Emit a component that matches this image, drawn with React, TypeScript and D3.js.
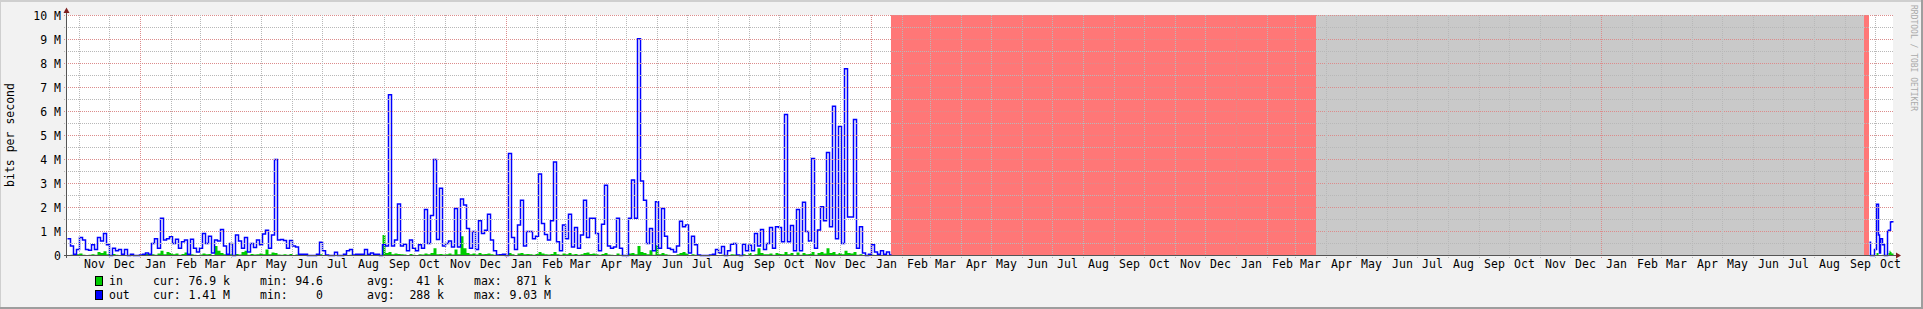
import React from 'react';
import * as d3 from 'd3';

const W = 1923;
const H = 309;
const DAY = 86400000;

// time window of the graph
const START = Date.UTC(2011, 9, 20);
const END = Date.UTC(2016, 9, 19);

// main data block: 3-day steps from START (values in Mbit/s)
const MAIN_STEP_DAYS = 3;
const MAIN_END = Date.UTC(2014, 0, 21);
const OUT_MAIN: number[] = [
  0.7, 0.4, 0.05, 0.25, 0.75, 0.65, 0.25, 0.22, 0.45, 0.25,
  0.75, 0.6, 0.92, 0.45, 0, 0.3, 0.2, 0.25, 0.05, 0.25,
  0, 0.05, 0, 0, 0.02, 0.05, 0.1, 0.05, 0.5, 0.7,
  0.3, 1.55, 0.65, 0.7, 0.78, 0.5, 0.68, 0.3, 0.57, 0.65,
  0.05, 0.68, 0.3, 0.15, 0.3, 0.92,
  0.5, 0.8, 0.1, 0.65, 0.6, 1.08, 0.4, 0.05, 0.5, 0,
  0.85, 0.6, 0.3, 0.75, 0.15, 0.5, 0.33, 0.65, 0.45, 0.9,
  1.05, 0.3, 0.85, 4.0, 0.65, 0.67, 0.62, 0.3, 0.62, 0.4,
  0.35, 0.05, 0.05, 0.05, 0, 0, 0, 0.05, 0.55, 0.2,
  0.02, 0, 0, 0.14, 0, 0,
  0.05, 0.2, 0.25, 0.02, 0.05, 0.05, 0.05, 0.25, 0.05, 0.1,
  0.05, 0.05, 0, 0.45, 0.4, 6.7, 0.4, 0.65, 2.15, 0.4,
  0.47, 0.2, 0.65, 0.3, 0.2, 0.45, 0.3, 1.92, 0.5, 1.67,
  4.0, 0.67, 2.8, 0.4, 0.5, 0.6, 0.35, 1.96, 0.35, 2.35,
  2.1, 1.13, 0.3, 1.0, 0.25, 1.45,
  0.92, 1.05, 1.72, 0.65, 0.2, 0.02, 0.03, 0.05, 0, 4.25,
  0.75, 0.25, 1.27, 2.3, 0.4, 1.0, 1.0, 0.7, 0.8, 3.4,
  1.33, 0.88, 0.65, 1.45, 3.9, 0.57, 0.2, 1.27, 0.7, 1.72,
  0.35, 1.17, 0.3, 0.85, 2.3, 0.75, 1.55, 1.55, 0.92, 0.2,
  1.3, 2.93, 0.4, 0.3, 0.35, 1.55,
  0.3, 0, 0, 1.55, 3.15, 1.55, 9.03, 3.1, 2.3, 0.5,
  1.12, 0.2, 2.24, 0.3, 1.96, 0.8, 0.3, 0.25, 0.15, 0.4,
  1.43, 1.2, 1.27, 0.1, 0.8, 0.45, 0.02, 0, 0, 0,
  0.02, 0.05, 0.25, 0.1, 0.37, 0, 0.2, 0.47, 0.5, 0.02,
  0, 0.47, 0.2, 0.43, 0.2, 0.92,
  0.4, 1.08, 0.25, 0.5, 1.17, 0.3, 1.2, 1.17, 0.57, 5.87,
  0.57, 1.25, 0.2, 1.92, 0.2, 2.22, 1.0, 0.6, 4.04, 0.3,
  1.06, 2.03, 1.45, 4.29, 1.2, 6.22, 0.7, 5.38, 0.5, 7.78,
  1.6, 1.6, 5.67, 0.3, 1.2, 0.1, 0, 0.05, 0.45, 0.15,
  0.05, 0.2, 0.05, 0.15, 0.02,
];
const IN_MAIN: number[] = [
  0.02, 0.03, 0.01, 0.05, 0.08, 0.03, 0.02, 0.03, 0.05, 0.03,
  0.15, 0.1, 0.18, 0.05, 0.02, 0.06, 0.03, 0.02, 0.01, 0.02,
  0.01, 0.01, 0, 0, 0.01, 0.02, 0.06, 0.02, 0.05, 0.03,
  0.08, 0.2, 0.05, 0.15, 0.1, 0.05, 0.08, 0.03, 0.06, 0.12,
  0.02, 0.05, 0.03, 0.02, 0.04, 0.08,
  0.05, 0.06, 0.02, 0.4, 0.2, 0.1, 0.05, 0.02, 0.05, 0,
  0.06, 0.04, 0.15, 0.2, 0.03, 0.06, 0.04, 0.05, 0.08, 0.05,
  0.25, 0.05, 0.12, 0.1, 0.04, 0.03, 0.05, 0.03, 0.06, 0.02,
  0.04, 0.01, 0.01, 0.01, 0, 0, 0, 0.01, 0.05, 0.02,
  0.01, 0, 0, 0.02, 0, 0,
  0.01, 0.02, 0.03, 0.01, 0.01, 0.01, 0.01, 0.03, 0.01, 0.01,
  0.01, 0.01, 0, 0.85, 0.1, 0.15, 0.05, 0.08, 0.06, 0.05,
  0.04, 0.02, 0.06, 0.03, 0.02, 0.05, 0.04, 0.08, 0.05, 0.1,
  0.3, 0.05, 0.06, 0.04, 0.05, 0.08, 0.04, 0.25, 0.05, 0.8,
  0.3, 0.1, 0.05, 0.08, 0.04, 0.1,
  0.05, 0.06, 0.08, 0.05, 0.03, 0.01, 0.01, 0.01, 0, 0.1,
  0.05, 0.02, 0.08, 0.1, 0.05, 0.06, 0.05, 0.03, 0.06, 0.15,
  0.08, 0.05, 0.04, 0.06, 0.15, 0.05, 0.03, 0.08, 0.05, 0.1,
  0.04, 0.06, 0.03, 0.05, 0.1, 0.12, 0.06, 0.08, 0.05, 0.03,
  0.06, 0.1, 0.04, 0.03, 0.02, 0.08,
  0.03, 0, 0, 0.08, 0.1, 0.05, 0.4, 0.15, 0.1, 0.05,
  0.22, 0.03, 0.43, 0.05, 0.1, 0.05, 0.03, 0.02, 0.02, 0.05,
  0.1, 0.15, 0.08, 0.02, 0.05, 0.03, 0, 0, 0, 0,
  0, 0.01, 0.02, 0.01, 0.03, 0, 0.02, 0.05, 0.04, 0.01,
  0, 0.05, 0.02, 0.1, 0.02, 0.05,
  0.3, 0.1, 0.05, 0.05, 0.08, 0.03, 0.1, 0.06, 0.05, 0.15,
  0.05, 0.1, 0.02, 0.12, 0.03, 0.1, 0.05, 0.06, 0.15, 0.03,
  0.1, 0.15, 0.08, 0.3, 0.1, 0.15, 0.05, 0.1, 0.05, 0.2,
  0.1, 0.08, 0.15, 0.03, 0.05, 0.01, 0, 0.01, 0.03, 0.01,
  0.01, 0.02, 0.01, 0.02, 0.01,
];

// tail data block: daily steps
const TAIL_START = Date.UTC(2016, 8, 25);
const TAIL_STEP_DAYS = 1;
const OUT_TAIL: number[] = [
  0.55, 0, 0, 0, 0, 0.25, 0.25, 2.14, 2.14, 0.85, 0.1, 0.7,
  0.7, 0.45, 0.45, 0, 0, 0, 1.0, 1.05, 1.05, 1.4, 1.41, 1.41,
];
const IN_TAIL: number[] = [
  0, 0, 0, 0, 0, 0, 0.02, 0.1, 0.1, 0.02, 0, 0.02,
  0.01, 0.03, 0.02, 0, 0, 0, 0.02, 0.1, 0.2, 0.15, 0.08, 0.08,
];

// shaded spans (unknown data / no data)
const SPANS = [
  { from: Date.UTC(2014, 0, 21), to: Date.UTC(2015, 2, 22), kind: 'unknown' },
  { from: Date.UTC(2015, 2, 22), to: Date.UTC(2016, 8, 20), kind: 'nodata' },
  { from: Date.UTC(2016, 8, 20), to: Date.UTC(2016, 8, 25), kind: 'unknown' },
];

const Y_TICKS = [0, 1, 2, 3, 4, 5, 6, 7, 8, 9, 10];
const Y_TICK_LABELS = ['0', '1 M', '2 M', '3 M', '4 M', '5 M', '6 M', '7 M', '8 M', '9 M', '10 M'];
const Y_MINOR = [0.5, 1.5, 2.5, 3.5, 4.5, 5.5, 6.5, 7.5, 8.5, 9.5];

const LEGEND_NAMES = ['in', 'out'];
const LEGEND_CUR = ['76.9 k', '1.41 M'];
const LEGEND_MIN = ['94.6', '0'];
const LEGEND_AVG = ['41 k', '288 k'];
const LEGEND_MAX = ['871 k', '9.03 M'];

const FONT = "'DejaVu Sans Mono', monospace";
const FS = 11.5;
const CHAR = 7;

const PLOT_L = 67;
const PLOT_R = 1893;
const PLOT_T = 15;
const PLOT_B = 255;

const SPAN_COLORS: Record<string, string> = { unknown: '#FF7777', nodata: '#C9C9C9' };
const IN_COLOR = '#00CC00';
const OUT_COLOR = '#0000FF';
const GRID = '#b8b8b8';
const MGRID = '#dc8c8c';

function series(values: number[], start: number, stepDays: number, end: number): [number, number][] {
  const pts: [number, number][] = values.map((v, i) => [start + i * stepDays * DAY, v]);
  pts.push([end, values[values.length - 1]]);
  return pts;
}

export default function App() {
  const x = d3.scaleUtc().domain([new Date(START), new Date(END)]).range([PLOT_L, PLOT_R]);
  const y = d3.scaleLinear().domain([0, 10]).range([PLOT_B + 0.5, PLOT_T + 0.5]);
  const xp = (t: number) => x(new Date(t)) + 0.5;

  const line = d3
    .line<[number, number]>()
    .x((d) => xp(d[0]))
    .y((d) => y(d[1]))
    .curve(d3.curveStepAfter);
  const area = d3
    .area<[number, number]>()
    .x((d) => xp(d[0]))
    .y0(y(0))
    .y1((d) => y(d[1]))
    .curve(d3.curveStepAfter);

  const outMain = series(OUT_MAIN, START, MAIN_STEP_DAYS, MAIN_END);
  const inMain = series(IN_MAIN, START, MAIN_STEP_DAYS, MAIN_END);
  const outTail = series(OUT_TAIL, TAIL_START, TAIL_STEP_DAYS, END);
  const inTail = series(IN_TAIL, TAIL_START, TAIL_STEP_DAYS, END);

  const months = d3.utcMonth.range(d3.utcMonth.ceil(new Date(START)), new Date(END));
  const years = d3.utcYear.range(d3.utcYear.ceil(new Date(START)), new Date(END));
  const fmt = d3.utcFormat('%b');
  const labels = months
    .map((m) => ({ m, cx: x(new Date(m.getTime() + 15 * DAY)) }))
    .filter((d) => d.cx >= PLOT_L && d.cx <= PLOT_R);

  const colX = [153, 260, 367, 474];
  const colW = [11, 9, 11, 11];

  return (
    <svg
      width={W}
      height={H}
      style={{ position: 'absolute', left: 0, top: 0, display: 'block' }}
      fontFamily={FONT}
    >
      <rect x={0} y={0} width={W} height={H} fill="#F2F2F2" />
      {/* frame shading */}
      <rect x={0} y={0} width={W} height={2} fill="#CFCFCF" />
      <rect x={0} y={0} width={1} height={H} fill="#CFCFCF" />
      <rect x={0} y={H - 2} width={W} height={2} fill="#9E9E9E" />
      <rect x={W - 2} y={0} width={2} height={H} fill="#9E9E9E" />

      {/* canvas */}
      <rect x={PLOT_L} y={PLOT_T} width={PLOT_R - PLOT_L} height={PLOT_B - PLOT_T} fill="#FFFFFF" />

      {/* shaded spans */}
      {SPANS.map((s, i) => (
        <rect
          key={i}
          x={x(new Date(s.from))}
          y={PLOT_T}
          width={x(new Date(s.to)) - x(new Date(s.from))}
          height={PLOT_B - PLOT_T}
          fill={SPAN_COLORS[s.kind]}
        />
      ))}

      {/* data */}
      <path d={area(inMain) || ''} fill={IN_COLOR} />
      <path d={area(inTail) || ''} fill={IN_COLOR} />
      <path d={line(outMain) || ''} fill="none" stroke={OUT_COLOR} strokeWidth={1.5} />
      <path d={line(outTail) || ''} fill="none" stroke={OUT_COLOR} strokeWidth={1.5} />

      {/* grid */}
      <g shapeRendering="crispEdges">
        {Y_MINOR.map((v) => (
          <line key={'hm' + v} x1={PLOT_L - 3} x2={PLOT_R} y1={y(v)} y2={y(v)} stroke={GRID} strokeDasharray="1,1" />
        ))}
        {Y_TICKS.filter((v) => v > 0).map((v) => (
          <line key={'hM' + v} x1={PLOT_L - 3} x2={PLOT_R} y1={y(v)} y2={y(v)} stroke={MGRID} strokeDasharray="1,1" />
        ))}
        {months
          .filter((m) => m.getUTCMonth() !== 0)
          .map((m) => (
            <line key={'vm' + m.getTime()} x1={xp(m.getTime())} x2={xp(m.getTime())} y1={PLOT_T} y2={PLOT_B + 3} stroke={GRID} strokeDasharray="1,1" />
          ))}
        {years.map((m) => (
          <line key={'vM' + m.getTime()} x1={xp(m.getTime())} x2={xp(m.getTime())} y1={PLOT_T} y2={PLOT_B + 3} stroke={MGRID} strokeDasharray="1,1" />
        ))}
      </g>

      {/* axes */}
      <g shapeRendering="crispEdges">
        <line x1={PLOT_L - 0.5} x2={PLOT_L - 0.5} y1={PLOT_B + 3} y2={10} stroke="#555555" />
        <line x1={PLOT_L - 3} x2={PLOT_R + 3} y1={PLOT_B + 0.5} y2={PLOT_B + 0.5} stroke="#555555" />
      </g>
      <path d={`M${PLOT_L - 3.5},13 L${PLOT_L + 2.5},13 L${PLOT_L - 0.5},7.5 Z`} fill="#7F1F1F" />
      <path d={`M${PLOT_R + 3},${PLOT_B - 2.5} L${PLOT_R + 3},${PLOT_B + 3.5} L${PLOT_R + 8},${PLOT_B + 0.5} Z`} fill="#7F1F1F" />

      {/* y labels */}
      {Y_TICKS.map((v, i) => (
        <text key={'yl' + v} x={61} y={y(v) + 4} textAnchor="end" fontSize={FS} fill="#000">
          {Y_TICK_LABELS[i]}
        </text>
      ))}
      {/* x labels */}
      {labels.map((d) => (
        <text key={'xl' + d.m.getTime()} x={d.cx + 0.5} y={268} textAnchor="middle" fontSize={FS} fill="#000">
          {fmt(d.m)}
        </text>
      ))}

      {/* y title */}
      <text transform="translate(13.5,135) rotate(-90)" textAnchor="middle" fontSize={FS} fill="#000">
        bits per second
      </text>

      {/* watermark */}
      <text transform="translate(1911,5) rotate(90)" fontSize={8} fill="#AAAAAA">
        RRDTOOL / TOBI OETIKER
      </text>

      {/* legend */}
      {LEGEND_NAMES.map((name, r) => {
        const base = 285 + r * 14;
        const vals = [LEGEND_CUR[r], LEGEND_MIN[r], LEGEND_AVG[r], LEGEND_MAX[r]];
        const keys = ['cur:', 'min:', 'avg:', 'max:'];
        return (
          <g key={name}>
            <rect x={95.5} y={base - 8.5} width={7} height={9} fill={r === 0 ? IN_COLOR : OUT_COLOR} stroke="#000" />
            <text x={109} y={base} fontSize={FS} fill="#000">
              {name}
            </text>
            {keys.map((k, c) => (
              <g key={k}>
                <text x={colX[c]} y={base} fontSize={FS} fill="#000">
                  {k}
                </text>
                <text x={colX[c] + colW[c] * CHAR} y={base} textAnchor="end" fontSize={FS} fill="#000">
                  {vals[c]}
                </text>
              </g>
            ))}
          </g>
        );
      })}
    </svg>
  );
}
